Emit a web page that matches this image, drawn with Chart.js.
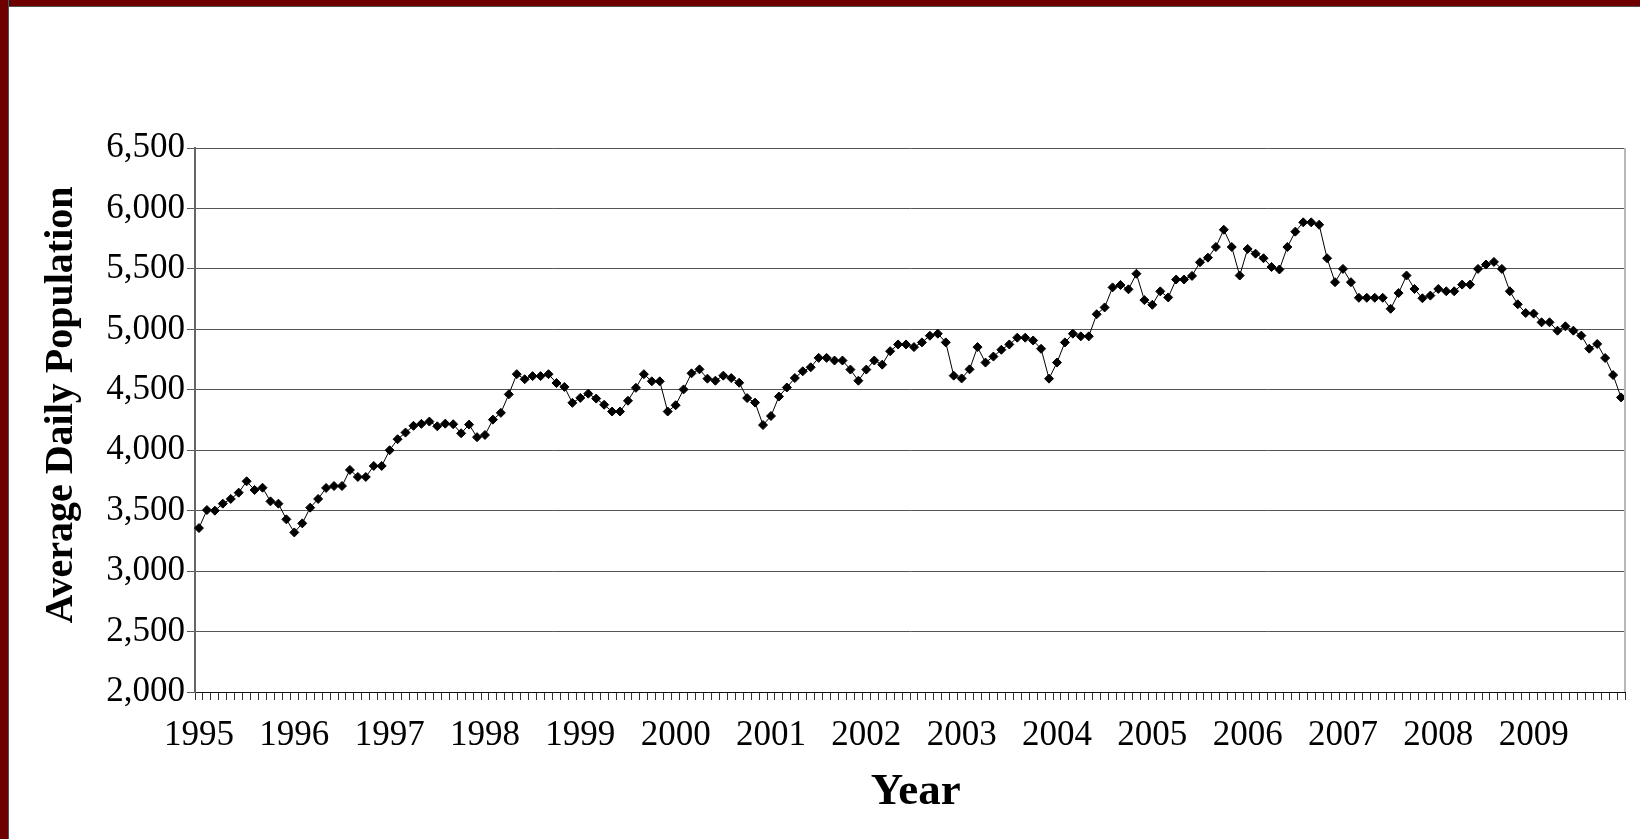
<!DOCTYPE html>
<html>
<head>
<meta charset="utf-8">
<script src="https://cdn.jsdelivr.net/npm/chart.js@4/dist/chart.umd.min.js"></script>
<style>
  html, body { margin: 0; padding: 0; background: #fff; }
  #wrap { position: relative; width: 1640px; height: 839px; overflow: hidden; }
  #grafico { position: absolute; left: 0; top: 0; }
  .barraTop { position: absolute; left: 0; top: 0; width: 1640px; height: 6px; background: #6e0000; border-bottom: 1px solid #555; }
  .barraIzq { position: absolute; left: 0; top: 0; width: 8px; height: 839px; background: #6e0000; border-right: 1px solid #555; }
</style>
</head>
<body>
<div id="wrap">
  <canvas id="grafico" width="1640" height="839"></canvas>
  <div class="barraTop"></div>
  <div class="barraIzq"></div>
</div>
<script>
// === Datos: población diaria promedio, mensual 1995-2009 ===
const years = [1995, 1996, 1997, 1998, 1999, 2000, 2001, 2002, 2003, 2004, 2005, 2006, 2007, 2008, 2009];
const months = ["Jan", "Feb", "Mar", "Apr", "May", "Jun", "Jul", "Aug", "Sep", "Oct", "Nov", "Dec"];

const adp = [
  3356, 3505, 3500, 3558, 3597, 3649, 3743, 3671, 3690, 3577, 3558, 3428, // 1995
  3320, 3395, 3525, 3597, 3688, 3704, 3704, 3837, 3779, 3779, 3870, 3870, // 1996
  4000, 4091, 4146, 4202, 4218, 4237, 4198, 4220, 4215, 4140, 4212, 4108, // 1997
  4126, 4253, 4309, 4462, 4629, 4587, 4613, 4613, 4629, 4556, 4524, 4392, // 1998
  4433, 4468, 4427, 4376, 4320, 4320, 4409, 4516, 4629, 4570, 4570, 4320, // 1999
  4372, 4503, 4636, 4669, 4592, 4575, 4617, 4597, 4558, 4431, 4394, 4208, // 2000
  4283, 4444, 4519, 4597, 4653, 4686, 4764, 4764, 4742, 4742, 4667, 4575, // 2001
  4667, 4742, 4708, 4819, 4875, 4875, 4853, 4892, 4947, 4964, 4892, 4617, // 2002
  4594, 4669, 4853, 4725, 4775, 4831, 4875, 4931, 4931, 4908, 4839, 4592, // 2003
  4725, 4892, 4964, 4942, 4942, 5125, 5181, 5347, 5367, 5331, 5460, 5242, // 2004
  5203, 5314, 5264, 5412, 5412, 5442, 5555, 5593, 5681, 5824, 5681, 5445, // 2005
  5665, 5626, 5588, 5516, 5495, 5681, 5808, 5885, 5885, 5865, 5588, 5390, // 2006
  5500, 5390, 5261, 5261, 5261, 5261, 5170, 5300, 5445, 5334, 5257, 5279, // 2007
  5334, 5315, 5315, 5370, 5370, 5500, 5536, 5558, 5500, 5315, 5207, 5135, // 2008
  5130, 5058, 5058, 4989, 5025, 4989, 4948, 4840, 4879, 4763, 4622, 4437  // 2009
];

const yMin = 2000;
const yMax = 6500;
const yStep = 500;

// etiquetas de categoría "1995 Jan", ...
const labels = [];
years.forEach(y => months.forEach(m => labels.push(y + " " + m)));

const fuente = "'Liberation Serif', 'Times New Roman', serif";

// línea gris del borde derecho del área de trazado
const bordeDerecho = {
  id: "bordeDerecho",
  afterDraw(chart) {
    const { ctx, chartArea } = chart;
    ctx.save();
    ctx.strokeStyle = "#b8b8b8";
    ctx.lineWidth = 2;
    ctx.beginPath();
    ctx.moveTo(chartArea.right, chartArea.top);
    ctx.lineTo(chartArea.right, chartArea.bottom);
    ctx.stroke();
    ctx.restore();
  }
};

new Chart(document.getElementById("grafico"), {
  type: "line",
  data: {
    labels,
    datasets: [{
      label: "Average Daily Population",
      data: adp,
      borderColor: "#000",
      borderWidth: 1,
      tension: 0,
      pointStyle: "rectRot",
      pointRadius: 4.5,
      pointBackgroundColor: "#000",
      pointBorderColor: "#000",
      pointBorderWidth: 1
    }]
  },
  options: {
    responsive: false,
    animation: false,
    events: [],
    layout: { padding: { top: 148, right: 15, bottom: 0, left: 0 } },
    plugins: { legend: { display: false }, tooltip: { enabled: false } },
    scales: {
      x: {
        type: "category",
        offset: true,
        afterFit: s => { s.height = 147; },
        grid: {
          display: true,
          offset: true,
          drawOnChartArea: false,
          drawTicks: true,
          tickLength: 8,
          color: "#333",
          lineWidth: 1
        },
        border: { display: true, color: "#111", width: 1 },
        ticks: {
          autoSkip: false,
          maxRotation: 0,
          padding: 15,
          color: "#000",
          font: { family: fuente, size: 35 },
          callback: (v, i) => (i % 12 === 0 ? String(years[i / 12]) : "")
        },
        title: {
          display: true,
          text: " Year",
          color: "#000",
          font: { family: fuente, size: 45, weight: "bold" },
          padding: { top: 0, bottom: 20 }
        }
      },
      y: {
        min: yMin,
        max: yMax,
        afterFit: s => { s.width = 195; },
        grid: {
          color: "#555",
          lineWidth: 1,
          drawTicks: true,
          tickLength: 8
        },
        border: { display: true, color: "#666", width: 2 },
        ticks: {
          stepSize: yStep,
          padding: 2,
          color: "#000",
          font: { family: fuente, size: 35 },
          callback: v => v.toLocaleString("en-US")
        },
        title: {
          display: true,
          text: "   Average Daily Population",
          color: "#000",
          font: { family: fuente, size: 40, weight: "bold" },
          padding: { top: 38, bottom: 0 }
        }
      }
    }
  },
  plugins: [bordeDerecho]
});
</script>
</body>
</html>
